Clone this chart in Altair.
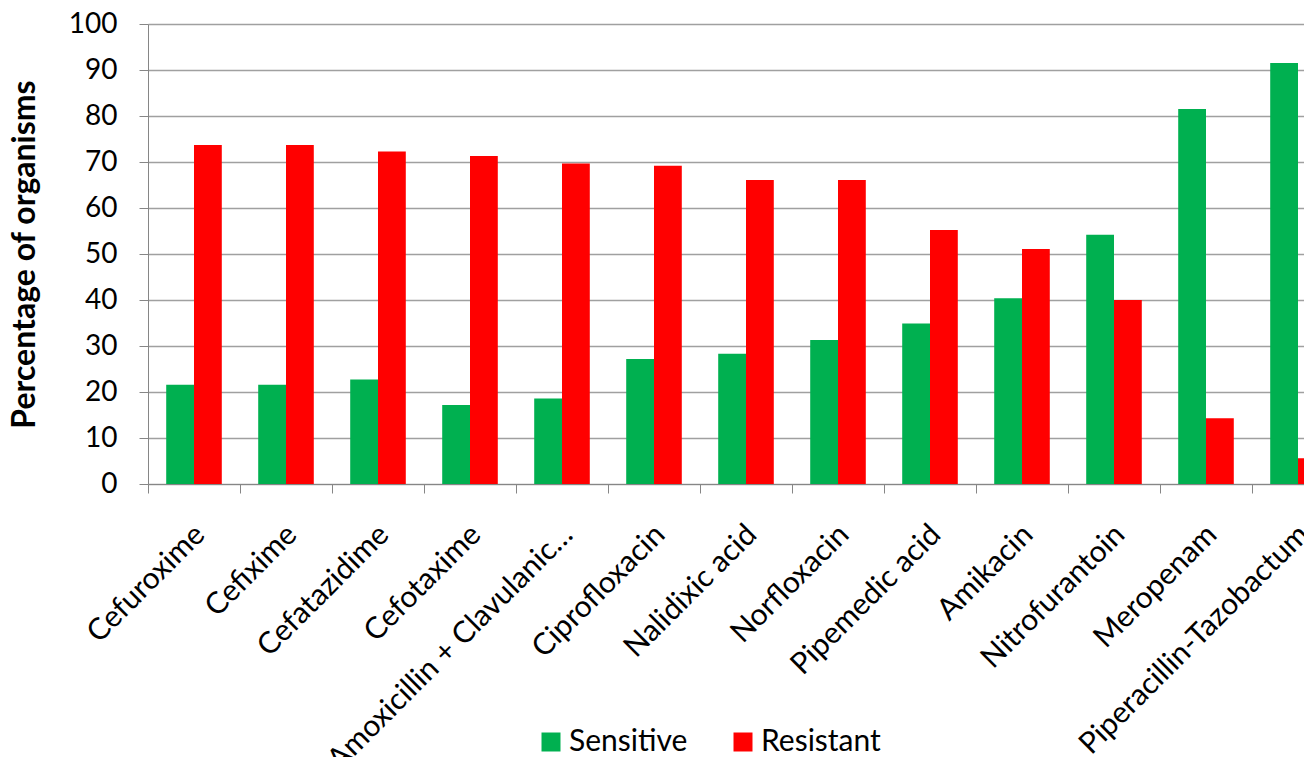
import altair as alt
import pandas as pd

categories = [
    "Cefuroxime", "Cefixime", "Cefatazidime", "Cefotaxime",
    "Amoxicillin + Clavulanic…", "Ciprofloxacin", "Nalidixic acid",
    "Norfloxacin", "Pipemedic acid", "Amikacin", "Nitrofurantoin",
    "Meropenam", "Piperacillin-Tazobactum",
]
sensitive = [21.6, 21.6, 22.7, 17.2, 18.6, 27.2, 28.3, 31.3, 34.9, 40.4, 54.2, 81.5, 91.5]
resistant = [73.7, 73.7, 72.3, 71.3, 69.7, 69.2, 66.1, 66.1, 55.2, 51.1, 40.0, 14.3, 5.6]
series = ["Sensitive", "Resistant"]
colors = ["#00B050", "#FF0000"]
y_ticks = list(range(0, 101, 10))

rows = []
for c, s, r in zip(categories, sensitive, resistant):
    rows.append({"Antibiotic": c, "Series": "Sensitive", "Value": s})
    rows.append({"Antibiotic": c, "Series": "Resistant", "Value": r})
df = pd.DataFrame(rows)

FONT = "Lato"
AXIS_COLOR = "#868686"

chart = (
    alt.Chart(df)
    .mark_bar()
    .encode(
        x=alt.X(
            "Antibiotic:N",
            sort=categories,
            scale=alt.Scale(range=[0, 1196], paddingInner=0, paddingOuter=0),
            axis=alt.Axis(
                title=None,
                labelAngle=-45,
                labelAlign="right",
                labelBaseline="top",
                labelOffset=-5,
                labelPadding=26,
                labelFont=FONT,
                labelFontSize=30,
                labelColor="#000000",
                labelOverlap=False,
                labelLimit=0,
                tickBand="extent",
                tickSize=9,
                tickColor=AXIS_COLOR,
                domainColor=AXIS_COLOR,
                grid=False,
            ),
        ),
        xOffset=alt.XOffset(
            "Series:N",
            sort=series,
            scale=alt.Scale(paddingInner=0, paddingOuter=0.655),
        ),
        y=alt.Y(
            "Value:Q",
            scale=alt.Scale(domain=[0, 100], nice=False),
            axis=alt.Axis(
                values=y_ticks,
                title="Percentage of organisms",
                titleFont=FONT,
                titleFontSize=32,
                titleFontWeight="bold",
                titleColor="#000000",
                titleX=-124,
                titleY=230,
                titleBaseline="middle",
                titleAngle=270,
                labelFont=FONT,
                labelFontSize=28,
                labelColor="#000000",
                labelPadding=22,
                tickSize=9,
                tickColor=AXIS_COLOR,
                domainColor=AXIS_COLOR,
                grid=True,
                gridColor="#A0A0A0",
                gridWidth=1.4,
            ),
        ),
        color=alt.Color(
            "Series:N",
            sort=series,
            scale=alt.Scale(domain=series, range=colors),
            legend=alt.Legend(
                title=None,
                orient="none",
                direction="horizontal",
                legendX=388,
                legendY=703,
                symbolType="square",
                symbolSize=361,
                symbolStrokeWidth=0,
                labelFont=FONT,
                labelFontSize=30,
                labelColor="#000000",
                labelOffset=3,
                columnPadding=40,
                padding=0,
            ),
        ),
    )
    .properties(
        width=1156,
        height=460,
        autosize=alt.AutoSizeParams(type="none"),
        padding={"left": 148, "top": 24, "right": 0, "bottom": 273},
    )
    .configure_view(stroke=None)
    .configure(background="white")
)

chart.save("out.html", embed_options={"renderer": "svg", "actions": False})
